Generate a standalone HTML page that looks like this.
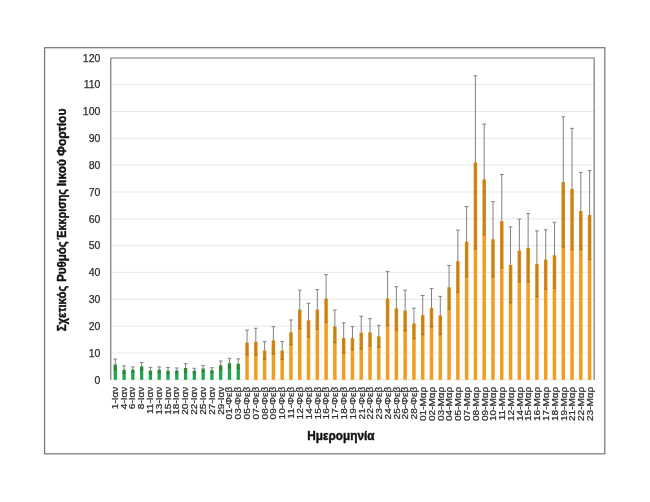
<!DOCTYPE html>
<html><head><meta charset="utf-8"><title>chart</title>
<style>
html,body{margin:0;padding:0;background:#fff;}
body{width:650px;height:502px;overflow:hidden;}
svg{display:block;will-change:transform;}
text{font-family:"Liberation Sans",sans-serif;fill:#2e2e2e;stroke:#2e2e2e;stroke-width:0.25px;}
.yt{font-size:10.5px;text-anchor:end;}
.xt{font-size:9.6px;stroke-width:0.18px;text-anchor:end;}
.ttl{font-size:12.4px;font-weight:bold;fill:#111;stroke:#111;stroke-width:0.42px;stroke-linejoin:round;}
</style></head><body>
<svg width="650" height="502" viewBox="0 0 650 502">
<rect x="0" y="0" width="650" height="502" fill="#fff"/>
<rect x="44.6" y="47.7" width="560.2" height="406.1" fill="#fff" stroke="#787878" stroke-width="1.25"/>
<g stroke="#e3e3e3" stroke-width="0.8">
<line x1="110.9" x2="594.0" y1="379.80" y2="379.80"/>
<line x1="110.9" x2="594.0" y1="352.97" y2="352.97"/>
<line x1="110.9" x2="594.0" y1="326.13" y2="326.13"/>
<line x1="110.9" x2="594.0" y1="299.30" y2="299.30"/>
<line x1="110.9" x2="594.0" y1="272.47" y2="272.47"/>
<line x1="110.9" x2="594.0" y1="245.63" y2="245.63"/>
<line x1="110.9" x2="594.0" y1="218.80" y2="218.80"/>
<line x1="110.9" x2="594.0" y1="191.97" y2="191.97"/>
<line x1="110.9" x2="594.0" y1="165.13" y2="165.13"/>
<line x1="110.9" x2="594.0" y1="138.30" y2="138.30"/>
<line x1="110.9" x2="594.0" y1="111.47" y2="111.47"/>
<line x1="110.9" x2="594.0" y1="84.63" y2="84.63"/>
</g>
<g>
<rect x="113.64" y="364.50" width="3.3" height="15.30" fill="#1fa44f"/>
<rect x="122.43" y="369.60" width="3.3" height="10.20" fill="#1fa44f"/>
<rect x="131.21" y="369.60" width="3.3" height="10.20" fill="#1fa44f"/>
<rect x="139.99" y="366.38" width="3.3" height="13.42" fill="#1fa44f"/>
<rect x="148.78" y="370.54" width="3.3" height="9.26" fill="#1fa44f"/>
<rect x="157.56" y="369.60" width="3.3" height="10.20" fill="#1fa44f"/>
<rect x="166.34" y="370.54" width="3.3" height="9.26" fill="#1fa44f"/>
<rect x="175.13" y="370.54" width="3.3" height="9.26" fill="#1fa44f"/>
<rect x="183.91" y="367.99" width="3.3" height="11.81" fill="#1fa44f"/>
<rect x="192.69" y="370.68" width="3.3" height="9.12" fill="#1fa44f"/>
<rect x="201.48" y="368.53" width="3.3" height="11.27" fill="#1fa44f"/>
<rect x="210.26" y="370.14" width="3.3" height="9.66" fill="#1fa44f"/>
<rect x="219.05" y="365.31" width="3.3" height="14.49" fill="#1fa44f"/>
<rect x="227.83" y="363.16" width="3.3" height="16.64" fill="#1fa44f"/>
<rect x="236.61" y="363.70" width="3.3" height="16.10" fill="#1fa44f"/>
<rect x="245.30" y="342.50" width="3.5" height="37.30" fill="#f29d1f"/>
<rect x="254.08" y="341.70" width="3.5" height="38.10" fill="#f29d1f"/>
<rect x="262.86" y="350.55" width="3.5" height="29.25" fill="#f29d1f"/>
<rect x="271.65" y="340.36" width="3.5" height="39.44" fill="#f29d1f"/>
<rect x="280.43" y="350.55" width="3.5" height="29.25" fill="#f29d1f"/>
<rect x="289.21" y="332.31" width="3.5" height="47.50" fill="#f29d1f"/>
<rect x="298.00" y="309.50" width="3.5" height="70.30" fill="#f29d1f"/>
<rect x="306.78" y="320.23" width="3.5" height="59.57" fill="#f29d1f"/>
<rect x="315.57" y="309.50" width="3.5" height="70.30" fill="#f29d1f"/>
<rect x="324.35" y="298.50" width="3.5" height="81.31" fill="#f29d1f"/>
<rect x="333.13" y="326.40" width="3.5" height="53.40" fill="#f29d1f"/>
<rect x="341.92" y="337.94" width="3.5" height="41.86" fill="#f29d1f"/>
<rect x="350.70" y="338.21" width="3.5" height="41.59" fill="#f29d1f"/>
<rect x="359.48" y="332.57" width="3.5" height="47.23" fill="#f29d1f"/>
<rect x="368.27" y="332.31" width="3.5" height="47.50" fill="#f29d1f"/>
<rect x="377.05" y="336.33" width="3.5" height="43.47" fill="#f29d1f"/>
<rect x="385.83" y="298.50" width="3.5" height="81.31" fill="#f29d1f"/>
<rect x="394.62" y="308.42" width="3.5" height="71.38" fill="#f29d1f"/>
<rect x="403.40" y="310.57" width="3.5" height="69.23" fill="#f29d1f"/>
<rect x="412.19" y="323.45" width="3.5" height="56.35" fill="#f29d1f"/>
<rect x="420.97" y="315.13" width="3.5" height="64.67" fill="#f29d1f"/>
<rect x="429.75" y="307.89" width="3.5" height="71.91" fill="#f29d1f"/>
<rect x="438.54" y="315.40" width="3.5" height="64.40" fill="#f29d1f"/>
<rect x="447.32" y="287.23" width="3.5" height="92.57" fill="#f29d1f"/>
<rect x="456.10" y="261.20" width="3.5" height="118.60" fill="#f29d1f"/>
<rect x="464.89" y="241.61" width="3.5" height="138.19" fill="#f29d1f"/>
<rect x="473.67" y="162.45" width="3.5" height="217.35" fill="#f29d1f"/>
<rect x="482.45" y="179.36" width="3.5" height="200.44" fill="#f29d1f"/>
<rect x="491.24" y="239.19" width="3.5" height="140.61" fill="#f29d1f"/>
<rect x="500.02" y="221.22" width="3.5" height="158.58" fill="#f29d1f"/>
<rect x="508.81" y="264.95" width="3.5" height="114.85" fill="#f29d1f"/>
<rect x="517.59" y="250.46" width="3.5" height="129.34" fill="#f29d1f"/>
<rect x="526.37" y="247.78" width="3.5" height="132.02" fill="#f29d1f"/>
<rect x="535.16" y="263.88" width="3.5" height="115.92" fill="#f29d1f"/>
<rect x="543.94" y="259.59" width="3.5" height="120.21" fill="#f29d1f"/>
<rect x="552.72" y="255.29" width="3.5" height="124.51" fill="#f29d1f"/>
<rect x="561.51" y="182.04" width="3.5" height="197.76" fill="#f29d1f"/>
<rect x="570.29" y="189.02" width="3.5" height="190.78" fill="#f29d1f"/>
<rect x="579.07" y="211.02" width="3.5" height="168.78" fill="#f29d1f"/>
<rect x="587.86" y="215.04" width="3.5" height="164.76" fill="#f29d1f"/>
</g>
<g fill="#5a3500" fill-opacity="0.13">
<rect x="113.54" y="364.50" width="3.5" height="5.37"/>
<rect x="113.54" y="369.27" width="3.5" height="1.2" fill-opacity="0.28"/>
<rect x="114.49" y="364.50" width="1.6" height="5.37" fill-opacity="0.2"/>
<rect x="122.33" y="369.60" width="3.5" height="3.76"/>
<rect x="122.33" y="372.76" width="3.5" height="1.2" fill-opacity="0.28"/>
<rect x="123.28" y="369.60" width="1.6" height="3.76" fill-opacity="0.2"/>
<rect x="131.11" y="369.60" width="3.5" height="2.68"/>
<rect x="131.11" y="371.69" width="3.5" height="1.2" fill-opacity="0.28"/>
<rect x="132.06" y="369.60" width="1.6" height="2.68" fill-opacity="0.2"/>
<rect x="139.89" y="366.38" width="3.5" height="3.76"/>
<rect x="139.89" y="369.54" width="3.5" height="1.2" fill-opacity="0.28"/>
<rect x="140.84" y="366.38" width="1.6" height="3.76" fill-opacity="0.2"/>
<rect x="148.68" y="370.54" width="3.5" height="3.22"/>
<rect x="148.68" y="373.16" width="3.5" height="1.2" fill-opacity="0.28"/>
<rect x="149.63" y="370.54" width="1.6" height="3.22" fill-opacity="0.2"/>
<rect x="157.46" y="369.60" width="3.5" height="2.68"/>
<rect x="157.46" y="371.69" width="3.5" height="1.2" fill-opacity="0.28"/>
<rect x="158.41" y="369.60" width="1.6" height="2.68" fill-opacity="0.2"/>
<rect x="166.24" y="370.54" width="3.5" height="3.09"/>
<rect x="166.24" y="373.03" width="3.5" height="1.2" fill-opacity="0.28"/>
<rect x="167.19" y="370.54" width="1.6" height="3.09" fill-opacity="0.2"/>
<rect x="175.03" y="370.54" width="3.5" height="2.55"/>
<rect x="175.03" y="372.49" width="3.5" height="1.2" fill-opacity="0.28"/>
<rect x="175.98" y="370.54" width="1.6" height="2.55" fill-opacity="0.2"/>
<rect x="183.81" y="367.99" width="3.5" height="4.29"/>
<rect x="183.81" y="371.69" width="3.5" height="1.2" fill-opacity="0.28"/>
<rect x="184.76" y="367.99" width="1.6" height="4.29" fill-opacity="0.2"/>
<rect x="192.59" y="370.68" width="3.5" height="2.42"/>
<rect x="192.59" y="372.49" width="3.5" height="1.2" fill-opacity="0.28"/>
<rect x="193.54" y="370.68" width="1.6" height="2.42" fill-opacity="0.2"/>
<rect x="201.38" y="368.53" width="3.5" height="2.95"/>
<rect x="201.38" y="370.88" width="3.5" height="1.2" fill-opacity="0.28"/>
<rect x="202.33" y="368.53" width="1.6" height="2.95" fill-opacity="0.2"/>
<rect x="210.16" y="370.14" width="3.5" height="2.42"/>
<rect x="210.16" y="371.95" width="3.5" height="1.2" fill-opacity="0.28"/>
<rect x="211.11" y="370.14" width="1.6" height="2.42" fill-opacity="0.2"/>
<rect x="218.95" y="365.31" width="3.5" height="4.29"/>
<rect x="218.95" y="369.00" width="3.5" height="1.2" fill-opacity="0.28"/>
<rect x="219.90" y="365.31" width="1.6" height="4.29" fill-opacity="0.2"/>
<rect x="227.73" y="363.16" width="3.5" height="4.83"/>
<rect x="227.73" y="367.39" width="3.5" height="1.2" fill-opacity="0.28"/>
<rect x="228.68" y="363.16" width="1.6" height="4.83" fill-opacity="0.2"/>
<rect x="236.51" y="363.70" width="3.5" height="4.83"/>
<rect x="236.51" y="367.93" width="3.5" height="1.2" fill-opacity="0.28"/>
<rect x="237.46" y="363.70" width="1.6" height="4.83" fill-opacity="0.2"/>
<rect x="245.30" y="342.50" width="3.5" height="12.34"/>
<rect x="245.30" y="354.25" width="3.5" height="1.2" fill-opacity="0.28"/>
<rect x="246.25" y="342.50" width="1.6" height="12.34" fill-opacity="0.2"/>
<rect x="254.08" y="341.70" width="3.5" height="13.42"/>
<rect x="254.08" y="354.51" width="3.5" height="1.2" fill-opacity="0.28"/>
<rect x="255.03" y="341.70" width="1.6" height="13.42" fill-opacity="0.2"/>
<rect x="262.86" y="350.55" width="3.5" height="8.86"/>
<rect x="262.86" y="358.81" width="3.5" height="1.2" fill-opacity="0.28"/>
<rect x="263.81" y="350.55" width="1.6" height="8.86" fill-opacity="0.2"/>
<rect x="271.65" y="340.36" width="3.5" height="13.69"/>
<rect x="271.65" y="353.44" width="3.5" height="1.2" fill-opacity="0.28"/>
<rect x="272.60" y="340.36" width="1.6" height="13.69" fill-opacity="0.2"/>
<rect x="280.43" y="350.55" width="3.5" height="9.12"/>
<rect x="280.43" y="359.07" width="3.5" height="1.2" fill-opacity="0.28"/>
<rect x="281.38" y="350.55" width="1.6" height="9.12" fill-opacity="0.2"/>
<rect x="289.21" y="332.31" width="3.5" height="12.34"/>
<rect x="289.21" y="344.05" width="3.5" height="1.2" fill-opacity="0.28"/>
<rect x="290.16" y="332.31" width="1.6" height="12.34" fill-opacity="0.2"/>
<rect x="298.00" y="309.50" width="3.5" height="19.32"/>
<rect x="298.00" y="328.22" width="3.5" height="1.2" fill-opacity="0.28"/>
<rect x="298.95" y="309.50" width="1.6" height="19.32" fill-opacity="0.2"/>
<rect x="306.78" y="320.23" width="3.5" height="16.90"/>
<rect x="306.78" y="336.53" width="3.5" height="1.2" fill-opacity="0.28"/>
<rect x="307.73" y="320.23" width="1.6" height="16.90" fill-opacity="0.2"/>
<rect x="315.57" y="309.50" width="3.5" height="19.86"/>
<rect x="315.57" y="328.75" width="3.5" height="1.2" fill-opacity="0.28"/>
<rect x="316.52" y="309.50" width="1.6" height="19.86" fill-opacity="0.2"/>
<rect x="324.35" y="298.50" width="3.5" height="23.88"/>
<rect x="324.35" y="321.78" width="3.5" height="1.2" fill-opacity="0.28"/>
<rect x="325.30" y="298.50" width="1.6" height="23.88" fill-opacity="0.2"/>
<rect x="333.13" y="326.40" width="3.5" height="16.37"/>
<rect x="333.13" y="342.17" width="3.5" height="1.2" fill-opacity="0.28"/>
<rect x="334.08" y="326.40" width="1.6" height="16.37" fill-opacity="0.2"/>
<rect x="341.92" y="337.94" width="3.5" height="15.03"/>
<rect x="341.92" y="352.37" width="3.5" height="1.2" fill-opacity="0.28"/>
<rect x="342.87" y="337.94" width="1.6" height="15.03" fill-opacity="0.2"/>
<rect x="350.70" y="338.21" width="3.5" height="11.54"/>
<rect x="350.70" y="349.15" width="3.5" height="1.2" fill-opacity="0.28"/>
<rect x="351.65" y="338.21" width="1.6" height="11.54" fill-opacity="0.2"/>
<rect x="359.48" y="332.57" width="3.5" height="16.37"/>
<rect x="359.48" y="348.34" width="3.5" height="1.2" fill-opacity="0.28"/>
<rect x="360.43" y="332.57" width="1.6" height="16.37" fill-opacity="0.2"/>
<rect x="368.27" y="332.31" width="3.5" height="13.69"/>
<rect x="368.27" y="345.39" width="3.5" height="1.2" fill-opacity="0.28"/>
<rect x="369.22" y="332.31" width="1.6" height="13.69" fill-opacity="0.2"/>
<rect x="377.05" y="336.33" width="3.5" height="11.00"/>
<rect x="377.05" y="346.73" width="3.5" height="1.2" fill-opacity="0.28"/>
<rect x="378.00" y="336.33" width="1.6" height="11.00" fill-opacity="0.2"/>
<rect x="385.83" y="298.50" width="3.5" height="27.10"/>
<rect x="385.83" y="325.00" width="3.5" height="1.2" fill-opacity="0.28"/>
<rect x="386.78" y="298.50" width="1.6" height="27.10" fill-opacity="0.2"/>
<rect x="394.62" y="308.42" width="3.5" height="21.74"/>
<rect x="394.62" y="329.56" width="3.5" height="1.2" fill-opacity="0.28"/>
<rect x="395.57" y="308.42" width="1.6" height="21.74" fill-opacity="0.2"/>
<rect x="403.40" y="310.57" width="3.5" height="20.39"/>
<rect x="403.40" y="330.36" width="3.5" height="1.2" fill-opacity="0.28"/>
<rect x="404.35" y="310.57" width="1.6" height="20.39" fill-opacity="0.2"/>
<rect x="412.19" y="323.45" width="3.5" height="15.29"/>
<rect x="412.19" y="338.14" width="3.5" height="1.2" fill-opacity="0.28"/>
<rect x="413.14" y="323.45" width="1.6" height="15.29" fill-opacity="0.2"/>
<rect x="420.97" y="315.13" width="3.5" height="19.59"/>
<rect x="420.97" y="334.12" width="3.5" height="1.2" fill-opacity="0.28"/>
<rect x="421.92" y="315.13" width="1.6" height="19.59" fill-opacity="0.2"/>
<rect x="429.75" y="307.89" width="3.5" height="19.32"/>
<rect x="429.75" y="326.61" width="3.5" height="1.2" fill-opacity="0.28"/>
<rect x="430.70" y="307.89" width="1.6" height="19.32" fill-opacity="0.2"/>
<rect x="438.54" y="315.40" width="3.5" height="19.05"/>
<rect x="438.54" y="333.85" width="3.5" height="1.2" fill-opacity="0.28"/>
<rect x="439.49" y="315.40" width="1.6" height="19.05" fill-opacity="0.2"/>
<rect x="447.32" y="287.23" width="3.5" height="21.74"/>
<rect x="447.32" y="308.36" width="3.5" height="1.2" fill-opacity="0.28"/>
<rect x="448.27" y="287.23" width="1.6" height="21.74" fill-opacity="0.2"/>
<rect x="456.10" y="261.20" width="3.5" height="31.13"/>
<rect x="456.10" y="291.72" width="3.5" height="1.2" fill-opacity="0.28"/>
<rect x="457.05" y="261.20" width="1.6" height="31.13" fill-opacity="0.2"/>
<rect x="464.89" y="241.61" width="3.5" height="35.15"/>
<rect x="464.89" y="276.16" width="3.5" height="1.2" fill-opacity="0.28"/>
<rect x="465.84" y="241.61" width="1.6" height="35.15" fill-opacity="0.2"/>
<rect x="473.67" y="162.45" width="3.5" height="86.67"/>
<rect x="473.67" y="248.52" width="3.5" height="1.2" fill-opacity="0.28"/>
<rect x="474.62" y="162.45" width="1.6" height="86.67" fill-opacity="0.2"/>
<rect x="482.45" y="179.36" width="3.5" height="55.28"/>
<rect x="482.45" y="234.03" width="3.5" height="1.2" fill-opacity="0.28"/>
<rect x="483.40" y="179.36" width="1.6" height="55.28" fill-opacity="0.2"/>
<rect x="491.24" y="239.19" width="3.5" height="37.57"/>
<rect x="491.24" y="276.16" width="3.5" height="1.2" fill-opacity="0.28"/>
<rect x="492.19" y="239.19" width="1.6" height="37.57" fill-opacity="0.2"/>
<rect x="500.02" y="221.22" width="3.5" height="46.69"/>
<rect x="500.02" y="267.31" width="3.5" height="1.2" fill-opacity="0.28"/>
<rect x="500.97" y="221.22" width="1.6" height="46.69" fill-opacity="0.2"/>
<rect x="508.81" y="264.95" width="3.5" height="38.10"/>
<rect x="508.81" y="302.46" width="3.5" height="1.2" fill-opacity="0.28"/>
<rect x="509.76" y="264.95" width="1.6" height="38.10" fill-opacity="0.2"/>
<rect x="517.59" y="250.46" width="3.5" height="31.40"/>
<rect x="517.59" y="281.26" width="3.5" height="1.2" fill-opacity="0.28"/>
<rect x="518.54" y="250.46" width="1.6" height="31.40" fill-opacity="0.2"/>
<rect x="526.37" y="247.78" width="3.5" height="34.35"/>
<rect x="526.37" y="281.53" width="3.5" height="1.2" fill-opacity="0.28"/>
<rect x="527.32" y="247.78" width="1.6" height="34.35" fill-opacity="0.2"/>
<rect x="535.16" y="263.88" width="3.5" height="33.00"/>
<rect x="535.16" y="296.28" width="3.5" height="1.2" fill-opacity="0.28"/>
<rect x="536.11" y="263.88" width="1.6" height="33.00" fill-opacity="0.2"/>
<rect x="543.94" y="259.59" width="3.5" height="29.78"/>
<rect x="543.94" y="288.77" width="3.5" height="1.2" fill-opacity="0.28"/>
<rect x="544.89" y="259.59" width="1.6" height="29.78" fill-opacity="0.2"/>
<rect x="552.72" y="255.29" width="3.5" height="33.00"/>
<rect x="552.72" y="287.70" width="3.5" height="1.2" fill-opacity="0.28"/>
<rect x="553.67" y="255.29" width="1.6" height="33.00" fill-opacity="0.2"/>
<rect x="561.51" y="182.04" width="3.5" height="65.20"/>
<rect x="561.51" y="246.64" width="3.5" height="1.2" fill-opacity="0.28"/>
<rect x="562.46" y="182.04" width="1.6" height="65.20" fill-opacity="0.2"/>
<rect x="570.29" y="189.02" width="3.5" height="60.64"/>
<rect x="570.29" y="249.06" width="3.5" height="1.2" fill-opacity="0.28"/>
<rect x="571.24" y="189.02" width="1.6" height="60.64" fill-opacity="0.2"/>
<rect x="579.07" y="211.02" width="3.5" height="38.64"/>
<rect x="579.07" y="249.06" width="3.5" height="1.2" fill-opacity="0.28"/>
<rect x="580.02" y="211.02" width="1.6" height="38.64" fill-opacity="0.2"/>
<rect x="587.86" y="215.04" width="3.5" height="44.54"/>
<rect x="587.86" y="258.99" width="3.5" height="1.2" fill-opacity="0.28"/>
<rect x="588.81" y="215.04" width="1.6" height="44.54" fill-opacity="0.2"/>
</g>
<g stroke="#808080" stroke-width="1" fill="none">
<path d="M115.29 359.14V364.50M113.44 359.14H117.14"/>
<path d="M124.08 365.85V369.60M122.23 365.85H125.93"/>
<path d="M132.86 366.92V369.60M131.01 366.92H134.71"/>
<path d="M141.64 362.63V366.38M139.79 362.63H143.49"/>
<path d="M150.43 367.32V370.54M148.58 367.32H152.28"/>
<path d="M159.21 366.92V369.60M157.36 366.92H161.06"/>
<path d="M167.99 367.46V370.54M166.14 367.46H169.84"/>
<path d="M176.78 367.99V370.54M174.93 367.99H178.63"/>
<path d="M185.56 363.70V367.99M183.71 363.70H187.41"/>
<path d="M194.34 368.26V370.68M192.49 368.26H196.19"/>
<path d="M203.13 365.58V368.53M201.28 365.58H204.98"/>
<path d="M211.91 367.73V370.14M210.06 367.73H213.76"/>
<path d="M220.70 361.02V365.31M218.85 361.02H222.55"/>
<path d="M229.48 358.33V363.16M227.63 358.33H231.33"/>
<path d="M238.26 358.87V363.70M236.41 358.87H240.11"/>
<path d="M247.05 330.16V342.50M245.20 330.16H248.90"/>
<path d="M255.83 328.28V341.70M253.98 328.28H257.68"/>
<path d="M264.61 341.70V350.55M262.76 341.70H266.46"/>
<path d="M273.40 326.67V340.36M271.55 326.67H275.25"/>
<path d="M282.18 341.43V350.55M280.33 341.43H284.03"/>
<path d="M290.96 319.96V332.31M289.11 319.96H292.81"/>
<path d="M299.75 290.18V309.50M297.90 290.18H301.60"/>
<path d="M308.53 303.33V320.23M306.68 303.33H310.38"/>
<path d="M317.32 289.64V309.50M315.47 289.64H319.17"/>
<path d="M326.10 274.61V298.50M324.25 274.61H327.95"/>
<path d="M334.88 310.03V326.40M333.03 310.03H336.73"/>
<path d="M343.67 322.91V337.94M341.82 322.91H345.52"/>
<path d="M352.45 326.67V338.21M350.60 326.67H354.30"/>
<path d="M361.23 316.20V332.57M359.38 316.20H363.08"/>
<path d="M370.02 318.62V332.31M368.17 318.62H371.87"/>
<path d="M378.80 325.33V336.33M376.95 325.33H380.65"/>
<path d="M387.58 271.39V298.50M385.73 271.39H389.43"/>
<path d="M396.37 286.69V308.42M394.52 286.69H398.22"/>
<path d="M405.15 290.18V310.57M403.30 290.18H407.00"/>
<path d="M413.94 308.16V323.45M412.09 308.16H415.79"/>
<path d="M422.72 295.54V315.13M420.87 295.54H424.57"/>
<path d="M431.50 288.57V307.89M429.65 288.57H433.35"/>
<path d="M440.29 296.35V315.40M438.44 296.35H442.14"/>
<path d="M449.07 265.49V287.23M447.22 265.49H450.92"/>
<path d="M457.85 230.07V261.20M456.00 230.07H459.70"/>
<path d="M466.64 206.46V241.61M464.79 206.46H468.49"/>
<path d="M475.42 75.78V162.45M473.57 75.78H477.27"/>
<path d="M484.20 124.08V179.36M482.35 124.08H486.05"/>
<path d="M492.99 201.63V239.19M491.14 201.63H494.84"/>
<path d="M501.77 174.53V221.22M499.92 174.53H503.62"/>
<path d="M510.56 226.85V264.95M508.71 226.85H512.41"/>
<path d="M519.34 219.07V250.46M517.49 219.07H521.19"/>
<path d="M528.12 213.43V247.78M526.27 213.43H529.97"/>
<path d="M536.91 230.88V263.88M535.06 230.88H538.76"/>
<path d="M545.69 229.80V259.59M543.84 229.80H547.54"/>
<path d="M554.47 222.29V255.29M552.62 222.29H556.32"/>
<path d="M563.26 116.83V182.04M561.41 116.83H565.11"/>
<path d="M572.04 128.37V189.02M570.19 128.37H573.89"/>
<path d="M580.82 172.38V211.02M578.97 172.38H582.67"/>
<path d="M589.61 170.50V215.04M587.76 170.50H591.46"/>
</g>
<path d="M110.78 379.8V57.95H594.15V379.8" fill="none" stroke="#747474" stroke-width="1.15"/>
<g class="yt">
<text x="100.4" y="383.60">0</text>
<text x="100.4" y="356.77">10</text>
<text x="100.4" y="329.93">20</text>
<text x="100.4" y="303.10">30</text>
<text x="100.4" y="276.27">40</text>
<text x="100.4" y="249.43">50</text>
<text x="100.4" y="222.60">60</text>
<text x="100.4" y="195.77">70</text>
<text x="100.4" y="168.93">80</text>
<text x="100.4" y="142.10">90</text>
<text x="100.4" y="115.27">100</text>
<text x="100.4" y="88.43">110</text>
<text x="100.4" y="61.60">120</text>
</g>
<g class="xt">
<text transform="translate(117.69 386.7) rotate(-90) scale(1.045 1)">1-Ιαν</text>
<text transform="translate(126.51 386.7) rotate(-90) scale(1.045 1)">4-Ιαν</text>
<text transform="translate(135.33 386.7) rotate(-90) scale(1.045 1)">6-Ιαν</text>
<text transform="translate(144.15 386.7) rotate(-90) scale(1.045 1)">8-Ιαν</text>
<text transform="translate(152.97 386.7) rotate(-90) scale(1.045 1)">11-Ιαν</text>
<text transform="translate(161.79 386.7) rotate(-90) scale(1.045 1)">13-Ιαν</text>
<text transform="translate(170.61 386.7) rotate(-90) scale(1.045 1)">15-Ιαν</text>
<text transform="translate(179.43 386.7) rotate(-90) scale(1.045 1)">18-Ιαν</text>
<text transform="translate(188.25 386.7) rotate(-90) scale(1.045 1)">20-Ιαν</text>
<text transform="translate(197.07 386.7) rotate(-90) scale(1.045 1)">22-Ιαν</text>
<text transform="translate(205.89 386.7) rotate(-90) scale(1.045 1)">25-Ιαν</text>
<text transform="translate(214.71 386.7) rotate(-90) scale(1.045 1)">27-Ιαν</text>
<text transform="translate(223.53 386.7) rotate(-90) scale(1.045 1)">29-Ιαν</text>
<text transform="translate(232.35 386.7) rotate(-90) scale(1.045 1)">01-Φεβ</text>
<text transform="translate(241.17 386.7) rotate(-90) scale(1.045 1)">03-Φεβ</text>
<text transform="translate(249.99 386.7) rotate(-90) scale(1.045 1)">05-Φεβ</text>
<text transform="translate(258.81 386.7) rotate(-90) scale(1.045 1)">07-Φεβ</text>
<text transform="translate(267.63 386.7) rotate(-90) scale(1.045 1)">08-Φεβ</text>
<text transform="translate(276.45 386.7) rotate(-90) scale(1.045 1)">09-Φεβ</text>
<text transform="translate(285.26 386.7) rotate(-90) scale(1.045 1)">10-Φεβ</text>
<text transform="translate(294.08 386.7) rotate(-90) scale(1.045 1)">11-Φεβ</text>
<text transform="translate(302.90 386.7) rotate(-90) scale(1.045 1)">12-Φεβ</text>
<text transform="translate(311.72 386.7) rotate(-90) scale(1.045 1)">14-Φεβ</text>
<text transform="translate(320.54 386.7) rotate(-90) scale(1.045 1)">15-Φεβ</text>
<text transform="translate(329.36 386.7) rotate(-90) scale(1.045 1)">16-Φεβ</text>
<text transform="translate(338.18 386.7) rotate(-90) scale(1.045 1)">17-Φεβ</text>
<text transform="translate(346.97 386.7) rotate(-90) scale(1.045 1)">18-Φεβ</text>
<text transform="translate(355.75 386.7) rotate(-90) scale(1.045 1)">19-Φεβ</text>
<text transform="translate(364.53 386.7) rotate(-90) scale(1.045 1)">21-Φεβ</text>
<text transform="translate(373.32 386.7) rotate(-90) scale(1.045 1)">22-Φεβ</text>
<text transform="translate(382.10 386.7) rotate(-90) scale(1.045 1)">23-Φεβ</text>
<text transform="translate(390.88 386.7) rotate(-90) scale(1.045 1)">24-Φεβ</text>
<text transform="translate(399.67 386.7) rotate(-90) scale(1.045 1)">25-Φεβ</text>
<text transform="translate(408.45 386.7) rotate(-90) scale(1.045 1)">26-Φεβ</text>
<text transform="translate(417.24 386.7) rotate(-90) scale(1.045 1)">28-Φεβ</text>
<text transform="translate(426.02 386.7) rotate(-90) scale(1.045 1)">01-Μαρ</text>
<text transform="translate(434.80 386.7) rotate(-90) scale(1.045 1)">02-Μαρ</text>
<text transform="translate(443.59 386.7) rotate(-90) scale(1.045 1)">03-Μαρ</text>
<text transform="translate(452.37 386.7) rotate(-90) scale(1.045 1)">04-Μαρ</text>
<text transform="translate(461.15 386.7) rotate(-90) scale(1.045 1)">05-Μαρ</text>
<text transform="translate(469.94 386.7) rotate(-90) scale(1.045 1)">07-Μαρ</text>
<text transform="translate(478.72 386.7) rotate(-90) scale(1.045 1)">08-Μαρ</text>
<text transform="translate(487.50 386.7) rotate(-90) scale(1.045 1)">09-Μαρ</text>
<text transform="translate(496.29 386.7) rotate(-90) scale(1.045 1)">10-Μαρ</text>
<text transform="translate(505.07 386.7) rotate(-90) scale(1.045 1)">11-Μαρ</text>
<text transform="translate(513.86 386.7) rotate(-90) scale(1.045 1)">12-Μαρ</text>
<text transform="translate(522.64 386.7) rotate(-90) scale(1.045 1)">14-Μαρ</text>
<text transform="translate(531.42 386.7) rotate(-90) scale(1.045 1)">15-Μαρ</text>
<text transform="translate(540.21 386.7) rotate(-90) scale(1.045 1)">16-Μαρ</text>
<text transform="translate(548.99 386.7) rotate(-90) scale(1.045 1)">17-Μαρ</text>
<text transform="translate(557.77 386.7) rotate(-90) scale(1.045 1)">18-Μαρ</text>
<text transform="translate(566.56 386.7) rotate(-90) scale(1.045 1)">19-Μαρ</text>
<text transform="translate(575.34 386.7) rotate(-90) scale(1.045 1)">21-Μαρ</text>
<text transform="translate(584.12 386.7) rotate(-90) scale(1.045 1)">22-Μαρ</text>
<text transform="translate(592.91 386.7) rotate(-90) scale(1.045 1)">23-Μαρ</text>
</g>
<text class="ttl" text-anchor="middle" textLength="67.4" lengthAdjust="spacingAndGlyphs" x="340.9" y="439.5">Ημερομηνία</text>
<text class="ttl" textLength="45.5" lengthAdjust="spacingAndGlyphs" transform="translate(66.4 331.2) rotate(-90)">Σχετικός</text>
<text class="ttl" textLength="40.6" lengthAdjust="spacingAndGlyphs" transform="translate(66.4 281.8) rotate(-90)">Ρυθμός</text>
<text class="ttl" textLength="50.7" lengthAdjust="spacingAndGlyphs" transform="translate(66.4 239.8) rotate(-90)">Έκκρισης</text>
<text class="ttl" textLength="27.0" lengthAdjust="spacingAndGlyphs" transform="translate(66.4 186.2) rotate(-90)">Ιικού</text>
<text class="ttl" textLength="47.4" lengthAdjust="spacingAndGlyphs" transform="translate(66.4 156.0) rotate(-90)">Φορτίου</text>
</svg>
</body></html>
